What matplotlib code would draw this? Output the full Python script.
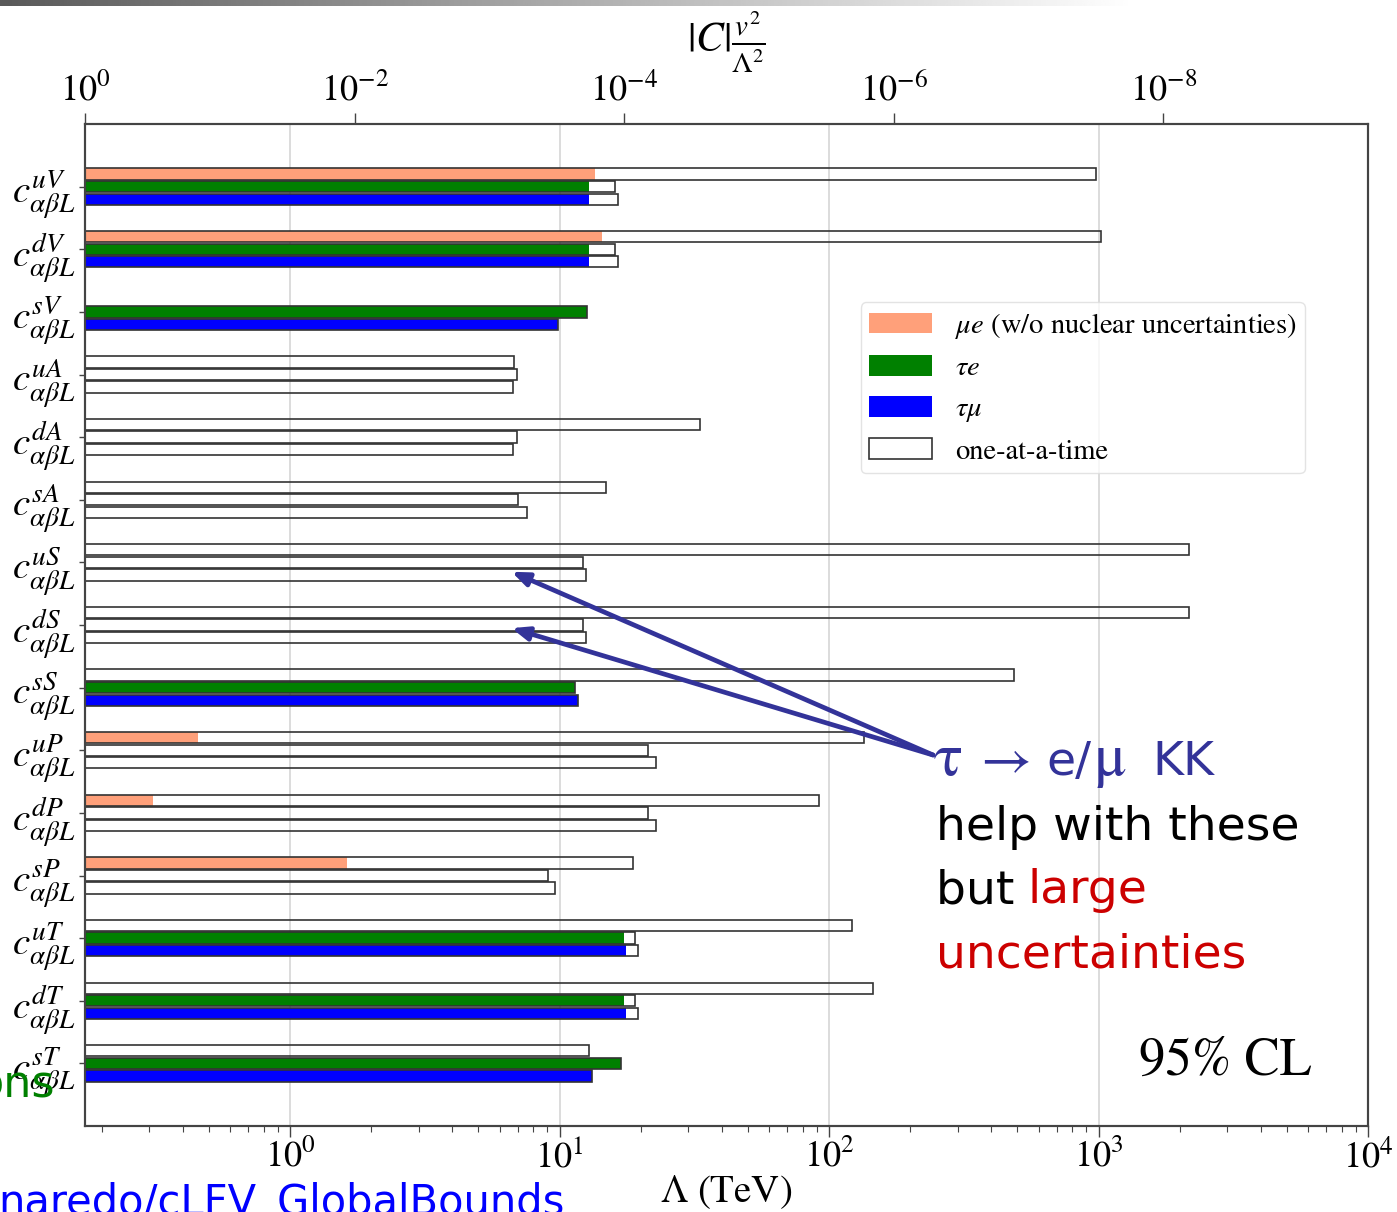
import numpy as np
import matplotlib.pyplot as plt
from matplotlib.patches import Patch
from matplotlib.ticker import NullLocator, FixedLocator

plt.rcParams['font.family'] = ['STIXGeneral', 'DejaVu Sans']
plt.rcParams['mathtext.fontset'] = 'stix'

nan = np.nan

# operators c^{qX}_{alpha beta L}
operators = ['uV', 'dV', 'sV', 'uA', 'dA', 'sA', 'uS', 'dS', 'sS',
             'uP', 'dP', 'sP', 'uT', 'dT', 'sT']

# global bounds, Lambda in TeV (filled bars)
mue_global = [13.5, 14.4, nan, nan, nan, nan, nan, nan, nan,
              0.456, 0.310, 1.63, nan, nan, nan]
taue_global = [12.9, 12.9, 12.6, nan, nan, nan, nan, nan, 11.4,
               nan, nan, nan, 17.3, 17.3, 16.9]
taumu_global = [12.9, 12.9, 9.87, nan, nan, nan, nan, nan, 11.7,
                nan, nan, nan, 17.6, 17.6, 13.2]

# one-at-a-time bounds, Lambda in TeV (open bars)
mue_single = [979, 1021, nan, 6.78, 33.2, 14.9, 2167, 2167, 486,
              135, 91.8, 18.7, 122, 146, 12.9]
taue_single = [16.1, 16.1, 12.6, 6.96, 6.96, 7.02, 12.2, 12.2, 11.4,
               21.3, 21.3, 9.06, 19.1, 19.1, 16.9]
taumu_single = [16.5, 16.5, 9.87, 6.72, 6.72, 7.57, 12.5, 12.5, 11.7,
                22.8, 22.8, 9.62, 19.5, 19.5, 13.2]

v_ew = 0.174  # TeV
lam_min, lam_max = 0.1733, 1e4

fig = plt.figure(figsize=(13.97, 12.12), dpi=100)
ax = fig.add_axes([85 / 1397, 1 - 1126 / 1212, 1283 / 1397, 1002 / 1212])

y = np.arange(len(operators))
h = 0.18
series = [
    (mue_global, mue_single, -0.2, '#FFA07A'),
    (taue_global, taue_single, 0.0, 'green'),
    (taumu_global, taumu_single, 0.2, 'blue'),
]
for glob, single, off, col in series:
    g = np.array(glob, dtype=float)
    s = np.array(single, dtype=float)
    m = np.isfinite(g)
    ax.barh(y[m] + off, g[m], height=h, color=col, linewidth=0, zorder=2)
    m = np.isfinite(s)
    ax.barh(y[m] + off, s[m], height=h, fill=False, edgecolor='#333333',
            linewidth=1.2, zorder=3)

ax.set_xscale('log')
ax.set_xlim(lam_min, lam_max)
ax.set_ylim(15, -1)
ax.set_yticks(y)
ax.set_yticklabels([r'$c^{%s}_{\alpha\beta L}$' % op for op in operators],
                   fontsize=28)
ax.tick_params(axis='y', length=4, width=1, pad=3, color='#444444')
ax.tick_params(axis='x', which='major', length=8, width=1, labelsize=26,
               pad=2, color='#444444')
ax.tick_params(axis='x', which='minor', length=4, width=0.8, color='#444444')
ax.set_xticks([1, 10, 100, 1000, 10000])
ax.grid(True, axis='x', which='major', color='#d9d9d9', linewidth=1.3)
ax.set_axisbelow(True)
ax.set_xlabel(r'$\Lambda$ (TeV)', fontsize=28, labelpad=-2)
for sp in ax.spines.values():
    sp.set_color('#444444')
    sp.set_linewidth(1.5)

# top axis: |C| v^2 / Lambda^2
ax2 = ax.twiny()
ax2.set_xscale('log')
ax2.set_xlim((v_ew / lam_min) ** 2, (v_ew / lam_max) ** 2)
ax2.xaxis.set_major_locator(FixedLocator([1, 1e-2, 1e-4, 1e-6, 1e-8]))
ax2.xaxis.set_minor_locator(NullLocator())
ax2.tick_params(axis='x', length=8, width=1, labelsize=26, pad=3,
                color='#444444')
ax2.set_xlabel(r'$|C|\frac{v^2}{\Lambda^2}$', fontsize=30, labelpad=15)
for sp in ax2.spines.values():
    sp.set_color('#444444')
    sp.set_linewidth(1.5)

handles = [Patch(facecolor='#FFA07A', edgecolor='none'),
           Patch(facecolor='green', edgecolor='none'),
           Patch(facecolor='blue', edgecolor='none'),
           Patch(facecolor='white', edgecolor='#333333', linewidth=1.2)]
labels = [r'$\mu e$ (w/o nuclear uncertainties)', r'$\tau e$', r'$\tau\mu$',
          'one-at-a-time']
leg = ax.legend(handles, labels, loc='upper right', bbox_to_anchor=(0.951, 0.822),
                borderaxespad=0, fontsize=20.5, handlelength=2.2, handleheight=0.75,
                labelspacing=0.5, handletextpad=0.8, borderpad=0.3,
                frameon=True, fancybox=True)
leg.get_frame().set_edgecolor('#dddddd')
leg.get_frame().set_linewidth(1.0)

ax.text(0.956, 0.051, '95% CL', transform=ax.transAxes, ha='right',
        va='baseline', fontsize=38)

# slide overlay
blue_txt = '#333399'
red_txt = '#CC0000'
sans = ['DejaVu Sans']
serif = ['STIXGeneral']
for yy in [6.15, 7.05]:
    ax.annotate('', xy=(6.63, yy), xycoords='data',
                xytext=(933, 1212 - 755), textcoords='figure pixels',
                arrowprops=dict(arrowstyle='-|>,head_length=1.0,head_width=0.4',
                                color=blue_txt, lw=3.4, shrinkA=0, shrinkB=0))

line1_y = 1 - 775 / 1212
for px, txt, fam, fs in [(934, 'τ', serif, 44), (980, '→', serif, 40),
                         (1046, 'e/', sans, 34), (1094, 'μ', serif, 44),
                         (1152, 'KK', sans, 34)]:
    fig.text(px / 1397, line1_y, txt, color=blue_txt, fontsize=fs,
             family=fam, va='baseline')
fig.text(936 / 1397, 1 - 840 / 1212, 'help with these', color='black',
         fontsize=34, family=sans, va='baseline')
fig.text(936 / 1397, 1 - 903 / 1212, 'but ', color='black',
         fontsize=34, family=sans, va='baseline')
fig.text(1028 / 1397, 1 - 903 / 1212, 'large', color=red_txt,
         fontsize=34, family=sans, va='baseline')
fig.text(936 / 1397, 1 - 967 / 1212, 'uncertainties', color=red_txt,
         fontsize=34, family=sans, va='baseline')

fig.text(55 / 1397, 1 - 1097 / 1212, 'ons', color='#008000', fontsize=32,
         family=sans, ha='right', va='baseline')
fig.text(565 / 1397, 1 - 1182 / 1212, 'naredo/cLFV_GlobalBounds', color='#0000FF',
         fontsize=30, family=sans, ha='right', va='top')

# grey bar at the top of the slide
bar_ax = fig.add_axes([0, 1 - 6 / 1212, 1, 6 / 1212])
grad = np.clip(np.linspace(0.35, 1.15, 512), 0, 1)[None, :]
bar_ax.imshow(grad, cmap='gray', vmin=0, vmax=1, aspect='auto')
bar_ax.axis('off')

fig.savefig('out.png', dpi=100)
